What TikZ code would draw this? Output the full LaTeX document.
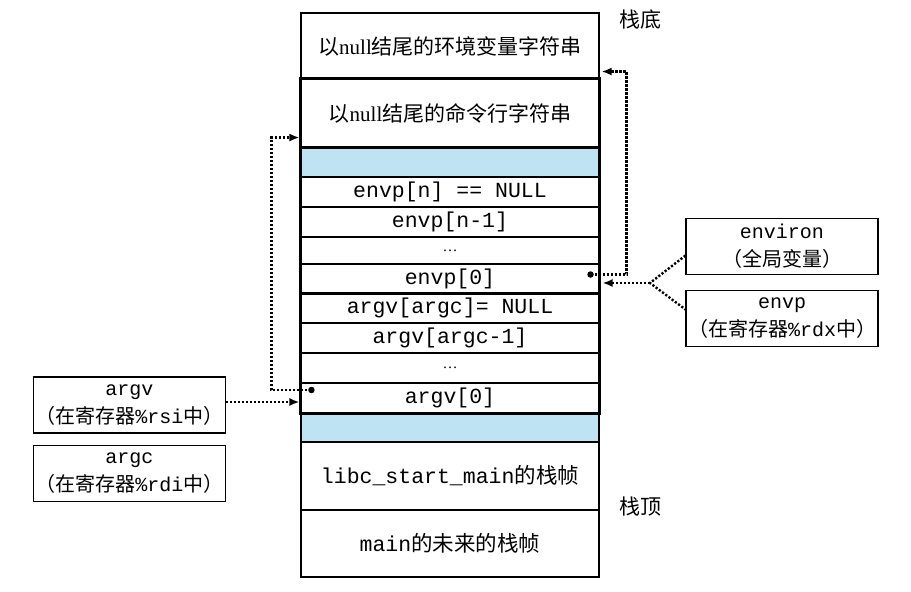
\documentclass[tikz,border=0pt]{standalone}
\usepackage{fontspec}
\setmainfont{Liberation Serif}
\setmonofont{Liberation Mono}
\newfontfamily\cjk{Noto Sans CJK SC}
\usetikzlibrary{arrows.meta}
\definecolor{bandblue}{HTML}{BEE3F3}
\tikzset{
  row/.style={draw, line width=1.1pt, minimum width=298pt, inner sep=0pt,
    font=\fontsize{21.5}{24}\selectfont\ttfamily},
  cjkrow/.style={row, font=\fontsize{21}{24}\selectfont\cjk},
  band/.style={row, fill=bandblue},
  sidebox/.style={draw, line width=1.1pt, minimum width=192pt, minimum height=56pt,
    inner sep=0pt, align=center, font=\fontsize{20}{28}\selectfont\ttfamily},
  dots/.style={line width=2.4pt, dash pattern=on 2.2pt off 1.8pt},
  tip/.style={-{Latex[length=10pt,width=8pt]}},
  pt/.style={circle, fill, inner sep=0pt, minimum size=6.5pt},
  side/.style={font=\fontsize{21}{24}\selectfont\cjk}
}
\begin{document}
\begin{tikzpicture}[x=1pt,y=-1pt]
\useasboundingbox (0,0) rectangle (911,592);
% stack rows
\node[cjkrow, minimum height=66pt] (envstr) at (450,46) {以{\rmfamily null}结尾的环境变量字符串};
\node[cjkrow, minimum height=68pt] (cmdstr) at (450,113) {以{\rmfamily null}结尾的命令行字符串};
\node[band, minimum height=30pt] (blue1) at (450,162) {};
\node[row, minimum height=30pt] (envn) at (450,192) {envp[n] == NULL};
\node[row, minimum height=30pt] (envn1) at (450,222) {envp[n-1]};
\node[row, minimum height=27pt, font=\fontsize{15}{15}\selectfont\rmfamily] (envdots) at (450,250.5) {…};
\node[row, minimum height=29pt] (env0) at (450,278.5) {envp[0]};
\node[row, minimum height=30pt] (argvn) at (450,308) {argv[argc]= NULL};
\node[row, minimum height=30pt] (argvn1) at (450,338) {argv[argc-1]};
\node[row, minimum height=30pt, font=\fontsize{15}{15}\selectfont\rmfamily] (argvdots) at (450,368) {…};
\node[row, minimum height=30pt] (argv0) at (450,398) {argv[0]};
\node[band, minimum height=29pt] (blue2) at (450,427.5) {};
\node[row, minimum height=68pt] (libc) at (450,476) {libc\_start\_main{\cjk 的栈帧}};
\node[row, minimum height=67pt] (mainf) at (450,543.5) {main{\cjk 的未来的栈帧}};
% thick outline
\draw[line width=2.2pt] (cmdstr.north west) rectangle (argv0.south east);
\draw[line width=2.2pt] (cmdstr.south west) -- (cmdstr.south east);
\draw[line width=2.2pt] (env0.south west) -- (env0.south east);
% side labels
\node[side] (bottomlbl) at (640,20) {栈底};
\node[side] (toplbl) at (640,507) {栈顶};
% side boxes
\node[sidebox] (environ) at (782,246.5) {environ\\{\cjk （全局变量）}};
\node[sidebox] (envp) at (782,318.5) {envp\\{\cjk （在寄存器}\%rdx{\cjk 中）}};
\node[sidebox] (argvbox) at (129.5,405) {argv\\{\cjk （在寄存器}\%rsi{\cjk 中）}};
\node[sidebox] (argcbox) at (129.5,473.5) {argc\\{\cjk （在寄存器}\%rdi{\cjk 中）}};
% connectors
\node[pt] (d1) at ([xshift=-9pt,yshift=4pt]env0.east) {};
\draw[dots, tip] (d1.center) -- ++(36,0) |- ([yshift=8pt,xshift=2pt]envstr.south east);
\coordinate (j) at (650,283);
\draw[dots] ([yshift=-9pt]environ.west) -- (j) -- ([yshift=9pt]envp.west);
\draw[dots, tip] (j) -- ([yshift=-4.5pt,xshift=3pt]env0.east);
\node[pt] (d2) at ([xshift=11pt,yshift=8pt]argv0.west) {};
\draw[dots, tip] (d2.center) -- ++(-40,0) |- ([yshift=10pt,xshift=-1pt]cmdstr.south west);
\draw[dots, tip] ([yshift=3pt]argvbox.east) -- ([yshift=3pt,xshift=-1pt]argvbox.east -| argv0.west);
\end{tikzpicture}
\end{document}
